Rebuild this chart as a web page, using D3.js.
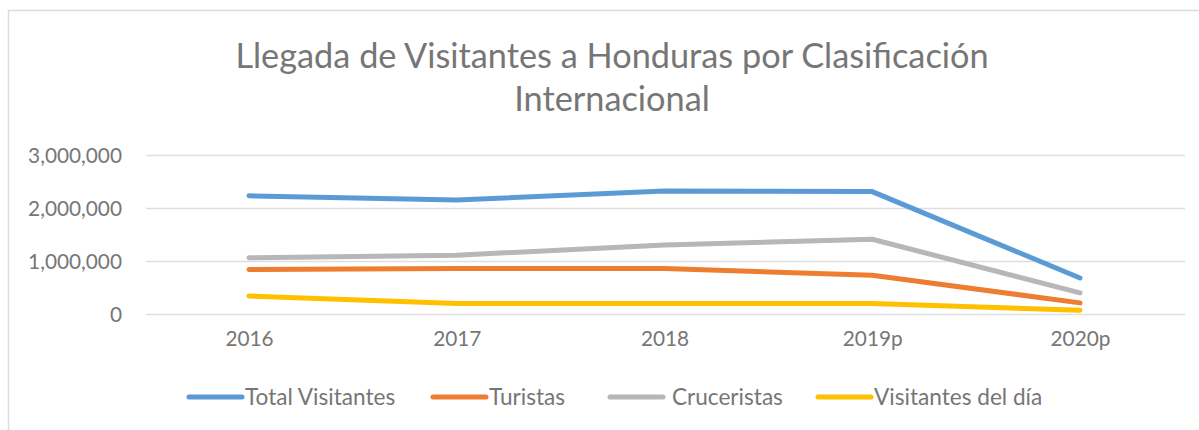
<!DOCTYPE html>
<html><head><meta charset="utf-8">
<script src="https://cdn.jsdelivr.net/npm/d3@7"></script>
<style>body{margin:0;background:#fff}svg{display:block}</style>
</head><body>
<svg id="c" width="1199" height="430"></svg>
<script>
const categories = ["2016","2017","2018","2019p","2020p"];
const totalVisitantes = [2230000, 2150000, 2320000, 2310000, 680000];
const turistas = [840000, 860000, 860000, 730000, 210000];
const cruceristas = [1060000, 1110000, 1300000, 1410000, 400000];
const visitantesDia = [340000, 200000, 200000, 200000, 70000];
const seriesNames = ["Total Visitantes","Turistas","Cruceristas","Visitantes del día"];
const seriesColors = ["#5b9bd5","#ed7d31","#b6b6bb","#ffc000"];
const yTicks = [0, 1000000, 2000000, 3000000];
const titleLines = ["Llegada de Visitantes a Honduras por Clasificación","Internacional"];

const series = [totalVisitantes, turistas, cruceristas, visitantesDia];
const svg = d3.select("#c");
const font = "Lato, 'Open Sans', sans-serif";
const txt = "#767676";

// frame
svg.append("path").attr("d","M8.5,430 V10.5 H1199").attr("fill","none").attr("stroke","#dcdce0").attr("stroke-width",1.5);

const x = d3.scalePoint().domain(categories).range([249, 1080]);
const y = d3.scaleLinear().domain([0, 3000000]).range([314, 155]);

// title
svg.append("g").selectAll("text").data(titleLines).join("text")
  .attr("x", 612).attr("y", (d,i)=> 68 + i*43)
  .attr("text-anchor","middle").attr("font-family",font).attr("font-size",34.3)
  .attr("fill",txt).text(d=>d);

// gridlines
const yAxis = d3.axisLeft(y).tickValues(yTicks).tickSize(-(1185-146)).tickPadding(24)
  .tickFormat(d3.format(","));
const gy = svg.append("g").attr("transform","translate(146,0)").call(yAxis);
gy.select(".domain").remove();
gy.selectAll(".tick line").attr("stroke","#dedee2").attr("stroke-width",1.5);
gy.selectAll(".tick text").attr("font-family",font).attr("font-size",20.8).attr("fill",txt).attr("dy","0.35em");

// x axis labels
const xAxis = d3.axisBottom(x).tickSize(0).tickPadding(17);
const gx = svg.append("g").attr("transform","translate(0,314)").call(xAxis);
gx.select(".domain").remove();
gx.selectAll(".tick text").attr("font-family",font).attr("font-size",20.8).attr("fill",txt);

// lines
const line = d3.line().x((d,i)=>x(categories[i])).y(d=>y(d));
svg.append("g").selectAll("path").data(series).join("path")
  .attr("d", d=>line(d)).attr("fill","none")
  .attr("stroke",(d,i)=>seriesColors[i]).attr("stroke-width",5)
  .attr("stroke-linecap","round").attr("stroke-linejoin","round");

// legend
const legX = [189, 433, 610, 818];
const leg = svg.append("g").selectAll("g").data(seriesNames).join("g")
  .attr("transform",(d,i)=>`translate(${legX[i]},397)`);
leg.append("line").attr("x1",0).attr("x2",53).attr("y1",0).attr("y2",0)
  .attr("stroke",(d,i)=>seriesColors[i]).attr("stroke-width",5).attr("stroke-linecap","round");
leg.append("text").attr("x",(d,i)=> i==2 ? 62 : 56).attr("y",0).attr("dy","0.35em")
  .attr("font-family",font).attr("font-size",22.6).attr("fill",txt).text(d=>d);
</script>
</body></html>
